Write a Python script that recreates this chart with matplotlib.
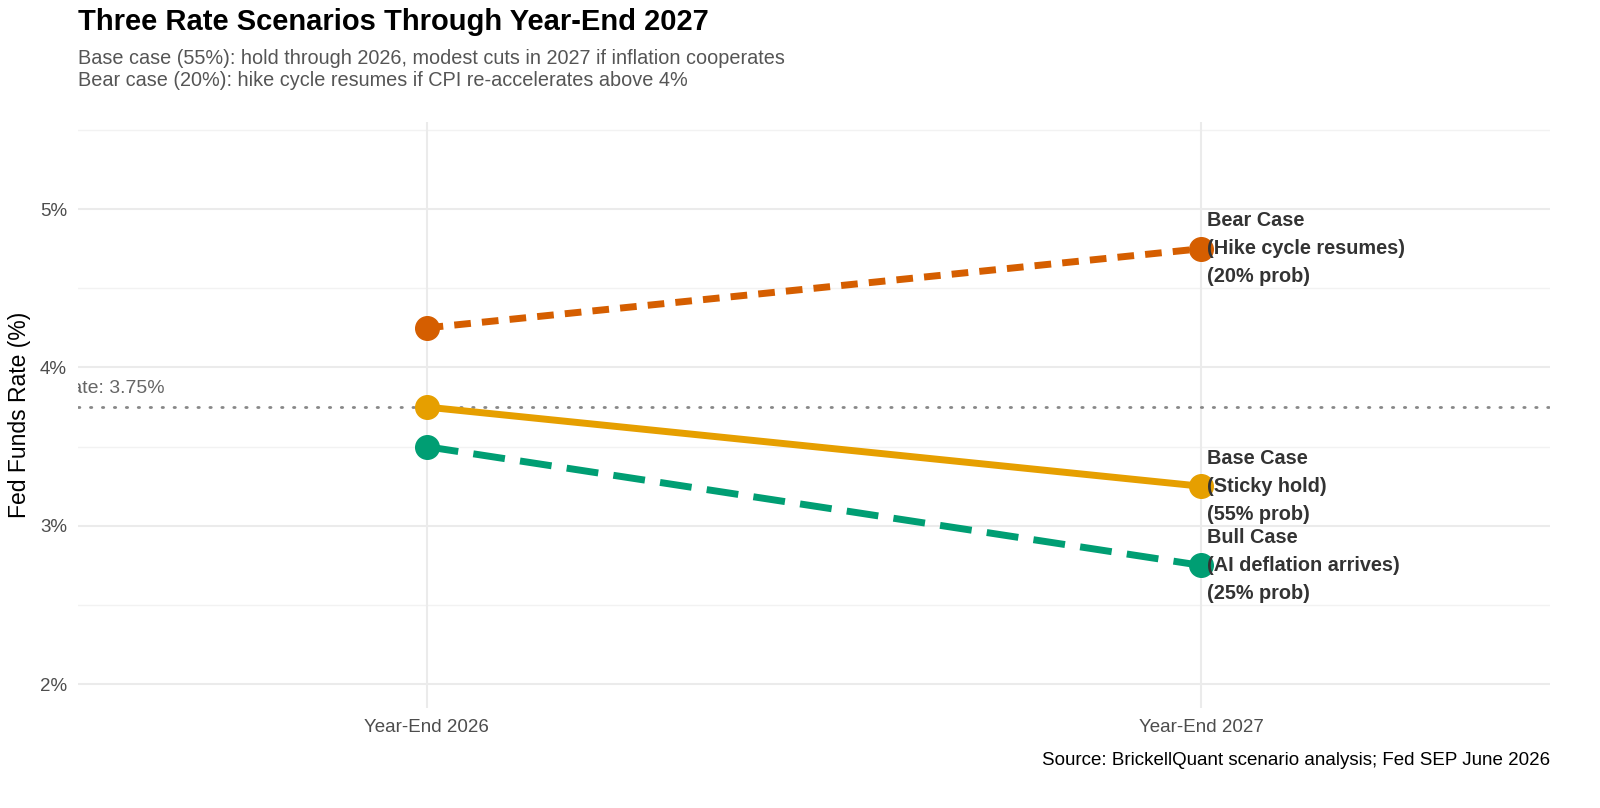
import matplotlib.pyplot as plt

plt.rcParams['font.family'] = ['Liberation Sans', 'DejaVu Sans']

# Data
periods = ["Year-End 2026", "Year-End 2027"]
bear = [4.25, 4.75]
base = [3.75, 3.25]
bull = [3.50, 2.75]
current_rate = 3.75

labels = {
    "bear": "Bear Case\n(Hike cycle resumes)\n(20% prob)",
    "base": "Base Case\n(Sticky hold)\n(55% prob)",
    "bull": "Bull Case\n(AI deflation arrives)\n(25% prob)",
}
colors = {"bear": "#D55E00", "base": "#E69F00", "bull": "#009E73"}
dashes = {"bear": (2.4, 1.6), "base": None, "bull": (4.6, 2.2)}
series = {"bear": bear, "base": base, "bull": bull}

fig = plt.figure(figsize=(16, 8.08), dpi=100)
ax = fig.add_axes([0.04875, 0.1238, 0.92, 0.7252])

x = list(range(len(periods)))

# grid
for v in [2, 3, 4, 5]:
    ax.axhline(v, color="#EBEBEB", lw=1.5, zorder=0)
for v in [2.5, 3.5, 4.5, 5.5]:
    ax.axhline(v, color="#F2F2F2", lw=1.0, zorder=0)
for xi in x:
    ax.axvline(xi, color="#EBEBEB", lw=1.5, zorder=0)

ax.axhline(current_rate, color="#888888", lw=2, linestyle=(0, (0.5, 3.8)),
           dash_capstyle="round", zorder=1)
ax.text(-0.338, 3.87, "Current rate: 3.75%", ha="right", va="center",
        fontsize=14, color="#666666", clip_on=True)

for key in ["bull", "base", "bear"]:
    ys = series[key]
    line, = ax.plot(x, ys, color=colors[key], lw=5, zorder=2)
    if dashes[key] is not None:
        line.set_dashes(dashes[key])
    ax.plot(x, ys, "o", color=colors[key], markersize=17, zorder=3)
    ax.annotate(labels[key], (x[1], ys[1]), xytext=(4, 0),
                textcoords="offset points", ha="left", va="center",
                fontsize=14.3, fontweight="bold", color="#333333",
                linespacing=1.6, zorder=4)

ax.set_xlim(-0.45, 1.45)
ax.set_ylim(1.85, 5.55)
ax.set_xticks(x)
ax.set_xticklabels(periods)
ax.set_yticks([2, 3, 4, 5])
ax.set_yticklabels(["2%", "3%", "4%", "5%"])
ax.tick_params(length=0, labelsize=13.5, labelcolor="#4D4D4D", pad=8)
for s in ax.spines.values():
    s.set_visible(False)
ax.set_ylabel("Fed Funds Rate (%)", fontsize=16.5, labelpad=6)

fig.text(0.04875, 0.973, "Three Rate Scenarios Through Year-End 2027",
         fontsize=21, fontweight="bold", va="center", ha="left")
fig.text(0.04875, 0.914,
         "Base case (55%): hold through 2026, modest cuts in 2027 if inflation cooperates\n"
         "Bear case (20%): hike cycle resumes if CPI re-accelerates above 4%",
         fontsize=14.3, color="#555555", va="center", ha="left", linespacing=1.15)
fig.text(0.96875, 0.059, "Source: BrickellQuant scenario analysis; Fed SEP June 2026",
         fontsize=13.5, ha="right", va="center")

fig.savefig("out.png", dpi=100)
